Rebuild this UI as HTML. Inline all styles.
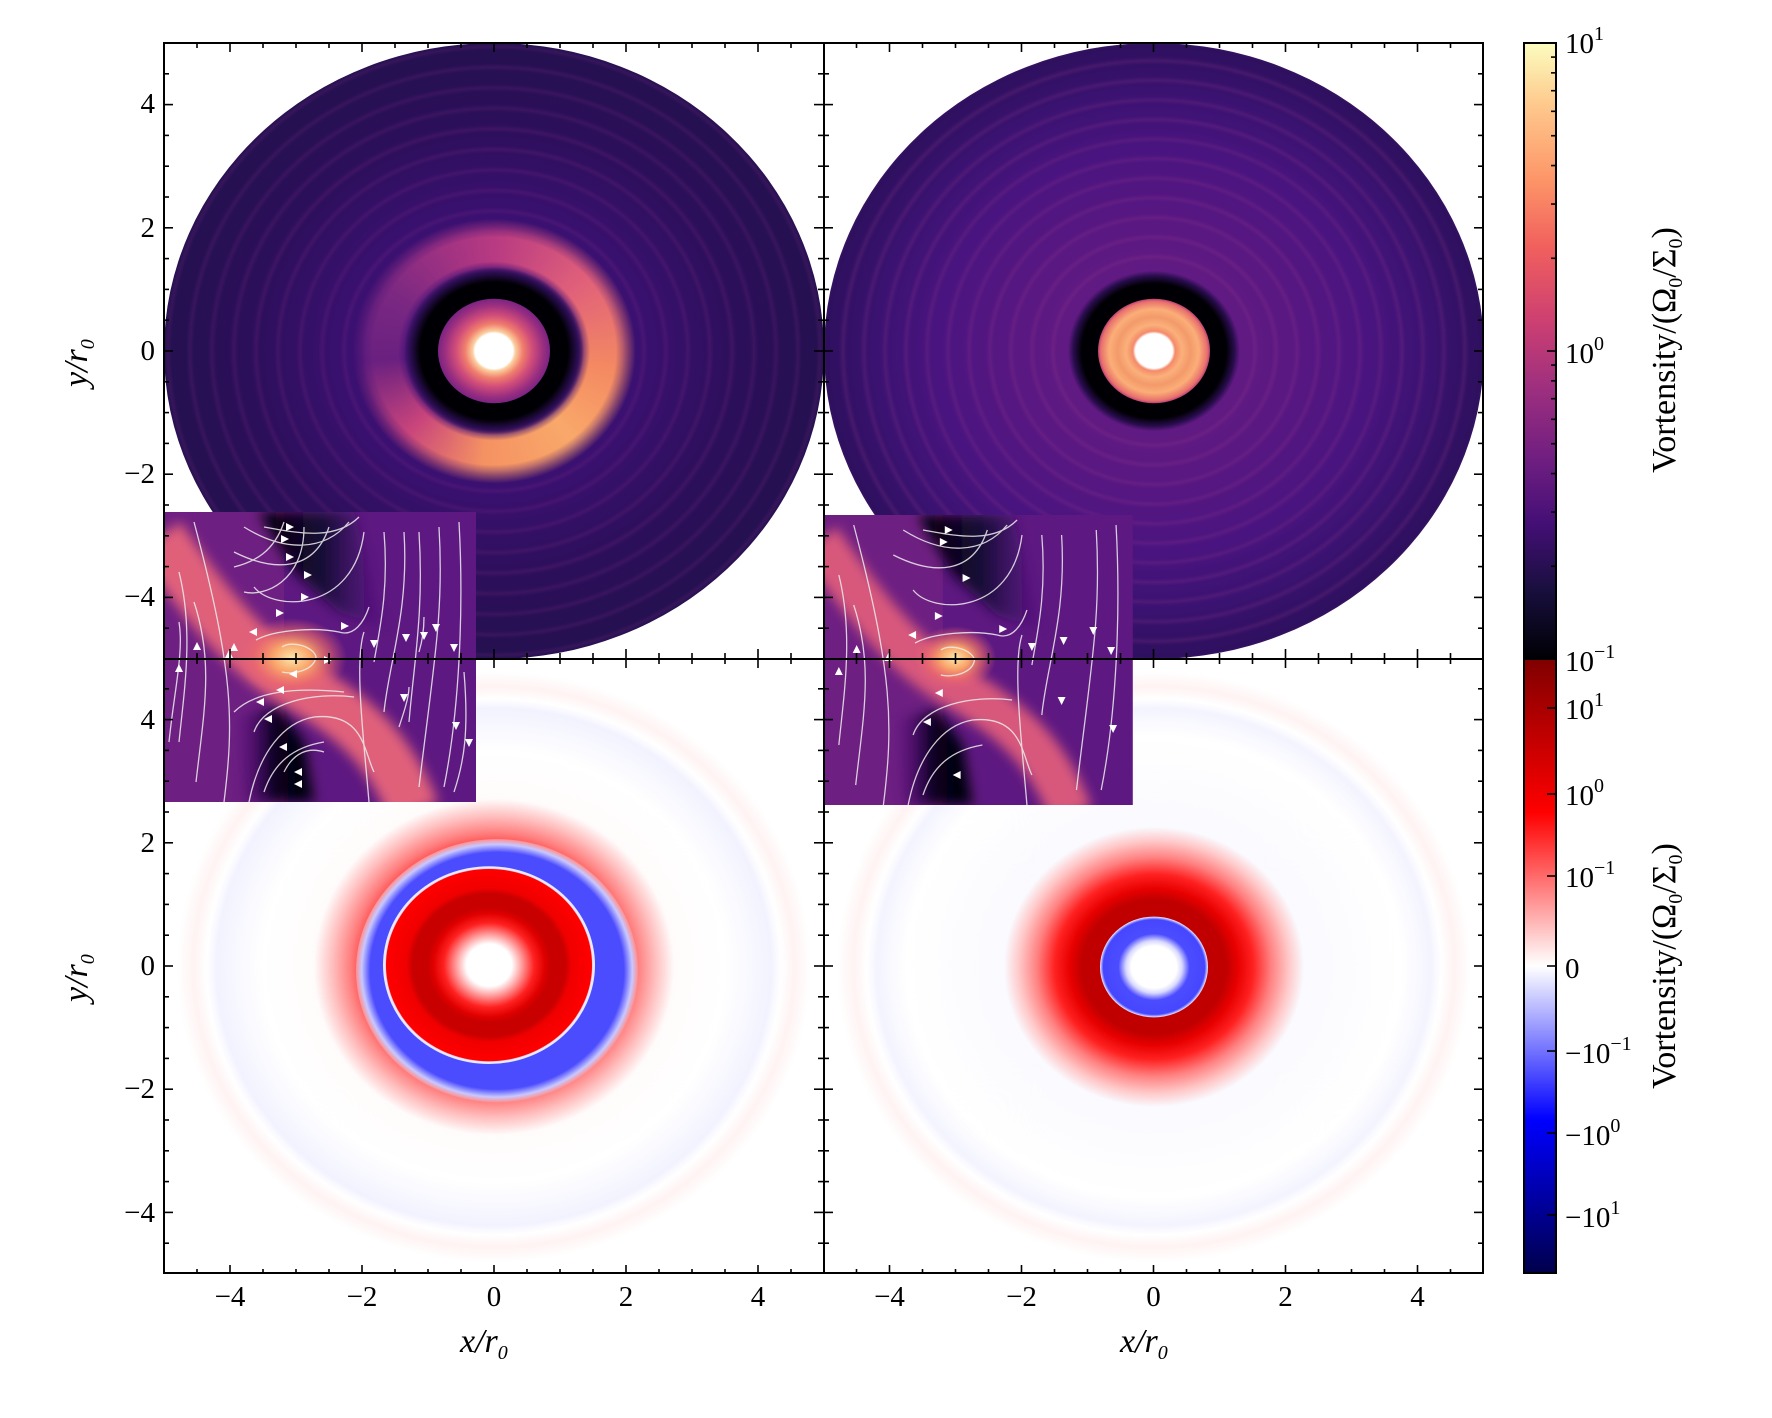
<!DOCTYPE html>
<html><head><meta charset="utf-8">
<style>
html,body{margin:0;padding:0;background:#fff;}
#root{position:relative;width:1772px;height:1418px;overflow:hidden;background:#fff;font-family:"Liberation Serif","DejaVu Serif",serif;}
.pc{position:absolute;width:660px;height:660px;transform-origin:0 0;transform:scaleY(0.9333);}
.c{position:absolute;border-radius:50%;}
.t{position:absolute;font-size:29px;color:#000;white-space:nowrap;line-height:1;}
sup{font-size:20px;vertical-align:0;position:relative;top:-13px;}
sub{font-size:20px;vertical-align:0;position:relative;top:7px;}
</style></head><body><div id="root">

<div class="pc" style="left:164px;top:43px;">
  <div class="c" style="left:0;top:0;width:660px;height:660px;background:radial-gradient(circle closest-side,#4a1380 0%,#3a1070 45%,#2c0f5a 75%,#241050 100%);"></div>
  <div class="c" style="left:0;top:0;width:660px;height:660px;background:repeating-radial-gradient(circle,rgba(0,0,0,0) 0px,rgba(0,0,0,0) 14px,rgba(150,50,140,0.16) 18px,rgba(0,0,0,0) 22px);"></div>
  <div class="c" style="left:185px;top:185px;width:290px;height:290px;background:conic-gradient(from 0deg,#b83a82 0deg,#e0607a 50deg,#f48a62 100deg,#f9a86a 140deg,#f59262 185deg,#c8447c 225deg,#6a2080 265deg,#7a2882 300deg,#a03282 335deg,#b83a82 360deg);-webkit-mask:radial-gradient(circle closest-side,transparent 84px,#000 96px,#000 122px,transparent 142px);mask:radial-gradient(circle closest-side,transparent 84px,#000 96px,#000 122px,transparent 142px);"></div>
  <div class="c" style="left:240px;top:240px;width:180px;height:180px;background:radial-gradient(circle closest-side,#000004 82%,#2a0d50 93%,rgba(60,16,110,0) 100%);"></div>
  <div class="c" style="left:274px;top:274px;width:112px;height:112px;background:radial-gradient(circle closest-side,#fff 34%,#fcd0a0 38%,#f07e6c 52%,#d24e7a 68%,#9a2e80 88%,#7a2482 100%);"></div>
</div>

<div class="pc" style="left:824px;top:43px;width:659px;">
  <div class="c" style="left:0;top:0;width:660px;height:660px;background:radial-gradient(circle closest-side,#6e1e84 0%,#5a1882 40%,#4a1480 65%,#3a1270 85%,#2e105e 100%);"></div>
  <div class="c" style="left:0;top:0;width:660px;height:660px;background:repeating-radial-gradient(circle,rgba(0,0,0,0) 0px,rgba(0,0,0,0) 13px,rgba(160,60,140,0.18) 17px,rgba(0,0,0,0) 21px);"></div>
  <div class="c" style="left:244px;top:244px;width:172px;height:172px;background:radial-gradient(circle closest-side,#000004 84%,#2a0d50 94%,rgba(80,20,120,0) 100%);"></div>
  <div class="c" style="left:274px;top:274px;width:112px;height:112px;background:radial-gradient(circle closest-side,#fff 33%,#f48a6a 38%,#fbb07a 50%,#f39a6a 65%,#fbae78 80%,#e8706c 95%,#b84078 100%);"></div>
</div>

<div class="pc" style="left:164px;top:659px;">
  <div class="c" style="left:0;top:0;width:660px;height:660px;background:radial-gradient(circle closest-side,rgba(255,240,240,0.5) 40%,rgba(255,255,255,0) 70%,rgba(232,232,255,0.55) 84%,rgba(255,255,255,0) 87%,rgba(255,228,228,0.45) 91%,rgba(255,255,255,0) 96%);"></div>
  <div class="c" style="left:150px;top:150px;width:360px;height:360px;background:radial-gradient(circle closest-side,#ff4040 72%,#ff8080 80%,#ffc0c0 90%,rgba(255,240,240,0) 100%);"></div>
  <div class="c" style="left:192px;top:193px;width:282px;height:282px;background:radial-gradient(circle closest-side,#4c4cff 90%,#c8c8ff 96%,#ff9090 100%);"></div>
  <div class="c" style="left:219px;top:222px;width:212px;height:212px;background:radial-gradient(circle closest-side,#ff0000 95%,#e8e8ff 98%,#e8e8ff 100%);"></div>
  <div class="c" style="left:222px;top:225px;width:206px;height:206px;background:radial-gradient(circle closest-side,#fff 22%,#ffb0b0 30%,#ff2020 44%,#e00000 54%,#c80000 60%,#c80000 74%,#f00000 80%,#ff0000 100%);"></div>
</div>

<div class="pc" style="left:824px;top:659px;width:659px;">
  <div class="c" style="left:0;top:0;width:660px;height:660px;background:radial-gradient(circle closest-side,rgba(245,245,255,0.6) 40%,rgba(255,255,255,0) 75%,rgba(232,232,255,0.5) 84%,rgba(255,255,255,0) 87%,rgba(255,228,228,0.45) 91%,rgba(255,255,255,0) 96%);"></div>
  <div class="c" style="left:180px;top:180px;width:300px;height:300px;background:radial-gradient(circle closest-side,#c00000 34%,#c00000 48%,#e80000 56%,#ff2020 66%,#ff8080 78%,#ffc8c8 90%,rgba(255,240,240,0) 100%);"></div>
  <div class="c" style="left:276px;top:276px;width:108px;height:108px;background:radial-gradient(circle closest-side,#fff 42%,#d8d8ff 52%,#4c4cff 66%,#4646ff 94%,#f0f0ff 100%);"></div>
</div>

<svg width="1772" height="1418" style="position:absolute;left:0;top:0" xmlns="http://www.w3.org/2000/svg">
<defs>
  <linearGradient id="dk1" x1="0" y1="0" x2="1" y2="0"><stop offset="0" stop-color="#000004"/><stop offset="0.5" stop-color="#1a0a3a"/><stop offset="1" stop-color="#4a1280" stop-opacity="0"/></linearGradient>
  <linearGradient id="dk2" x1="0" y1="0" x2="1" y2="0"><stop offset="0" stop-color="#4a1280" stop-opacity="0"/><stop offset="0.5" stop-color="#0a0420"/><stop offset="1" stop-color="#000004"/></linearGradient>
  <radialGradient id="blob"><stop offset="0" stop-color="#fde6a8"/><stop offset="0.35" stop-color="#f9a46a"/><stop offset="0.7" stop-color="#ee6a6a" stop-opacity="0.6"/><stop offset="1" stop-color="#e0607a" stop-opacity="0"/></radialGradient>
  <filter id="bl" x="-20%" y="-20%" width="140%" height="140%"><feGaussianBlur stdDeviation="6"/></filter>
  <clipPath id="ic"><rect x="0" y="0" width="312" height="290"/></clipPath>
  <linearGradient id="mag" x1="0" y1="0" x2="0" y2="1">
    <stop offset="0" stop-color="#fcfdbf"/><stop offset="0.1" stop-color="#fec98d"/><stop offset="0.22" stop-color="#fd9668"/><stop offset="0.33" stop-color="#f1605d"/><stop offset="0.45" stop-color="#cd4071"/><stop offset="0.56" stop-color="#9e2f7f"/><stop offset="0.67" stop-color="#721f81"/><stop offset="0.78" stop-color="#440f76"/><stop offset="0.89" stop-color="#180f3d"/><stop offset="1" stop-color="#000004"/></linearGradient>
  <linearGradient id="seis" x1="0" y1="0" x2="0" y2="1">
    <stop offset="0" stop-color="#800000"/><stop offset="0.25" stop-color="#ff0000"/><stop offset="0.5" stop-color="#ffffff"/><stop offset="0.75" stop-color="#0000ff"/><stop offset="1" stop-color="#00004c"/></linearGradient>
</defs>

<g transform="translate(164,512)">
 <g clip-path="url(#ic)">
  <rect width="312" height="290" fill="#5e1881"/>
  <rect x="0" width="120" height="290" fill="#6e1f82"/>
  <path d="M95,0 L190,0 L215,100 L230,120 L175,100 L130,60 Z" fill="url(#dk1)" filter="url(#bl)"/>
  <path d="M80,290 L150,290 L140,230 L115,195 L70,205 Z" fill="url(#dk2)" filter="url(#bl)"/>
  <path d="M-5,25 C40,90 80,140 130,170 C190,205 225,235 250,300" stroke="#e0607a" stroke-width="52" fill="none" filter="url(#bl)"/>
  <ellipse cx="128" cy="146" rx="55" ry="40" fill="url(#blob)"/>
  <g stroke="#eee" stroke-width="1.3" fill="none" opacity="0.85">
   <path d="M15,230 C20,180 30,120 15,60"/><path d="M32,270 C40,200 50,150 30,90"/><path d="M60,290 C70,210 70,160 30,10"/><path d="M5,230 C10,180 20,140 15,110"/>
   <path d="M85,290 C95,240 120,210 150,205 C200,200 200,240 210,260"/><path d="M100,280 C110,250 130,235 160,230"/><path d="M120,260 C130,240 145,235 160,240"/><path d="M90,220 C100,190 150,180 190,185"/>
   <path d="M70,200 C90,180 130,175 180,180"/>
   <path d="M195,5 C170,30 130,20 100,15"/><path d="M185,10 C160,40 120,40 80,15"/><path d="M165,15 C150,60 110,60 70,40"/><path d="M140,15 C140,70 100,85 80,80"/><path d="M200,20 C190,100 110,100 90,75"/>
   <path d="M120,10 C110,40 90,50 70,55"/>
   <path d="M92,128 C110,118 150,115 175,120 C190,125 200,110 205,95"/><path d="M118,135 C128,128 150,135 152,145 C150,158 130,163 118,160"/>
   <path d="M200,120 C190,150 200,230 205,290"/><path d="M220,20 C225,80 215,120 210,150"/><path d="M240,20 C245,100 225,150 220,200"/><path d="M255,20 C260,100 250,150 245,210"/>
   <path d="M275,15 C280,100 270,150 255,275"/><path d="M295,10 C300,100 295,200 280,275"/><path d="M300,160 C305,220 300,250 290,280"/><path d="M260,105 C260,120 258,130 255,140"/><path d="M245,175 C245,185 240,200 235,215"/>
  </g>
  <g fill="#fff">
   <path d="M130,15 l-8,-4 l0,8z"/><path d="M125,27 l-8,-4 l0,8z"/><path d="M130,45 l-8,-4 l0,8z"/><path d="M148,63 l-8,-4 l0,8z"/><path d="M145,85 l-8,-4 l0,8z"/><path d="M120,101 l-8,-4 l0,8z"/>
   <path d="M85,120 l8,-4 l0,8z"/><path d="M185,114 l-8,-4 l0,8z"/><path d="M168,148 l-8,-4 l0,8z"/><path d="M125,162 l8,-4 l0,8z"/>
   <path d="M112,178 l8,-4 l0,8z"/><path d="M92,190 l8,-4 l0,8z"/><path d="M100,207 l8,-4 l0,8z"/><path d="M115,235 l8,-4 l0,8z"/><path d="M130,260 l8,-4 l0,8z"/><path d="M130,272 l8,-4 l0,8z"/>
   <path d="M15,152 l-4,8 l8,0z"/><path d="M33,130 l-4,8 l8,0z"/><path d="M65,138 l-4,8 l8,0z"/><path d="M70,131 l-4,8 l8,0z"/>
   <path d="M210,136 l-4,-8 l8,0z"/><path d="M242,130 l-4,-8 l8,0z"/><path d="M260,128 l-4,-8 l8,0z"/><path d="M272,120 l-4,-8 l8,0z"/><path d="M290,140 l-4,-8 l8,0z"/><path d="M240,190 l-4,-8 l8,0z"/><path d="M292,218 l-4,-8 l8,0z"/><path d="M305,235 l-4,-8 l8,0z"/>
  </g>
 </g>
</g>
<g transform="translate(824,515) scale(0.99,1.0)">
 <g clip-path="url(#ic)">
  <rect width="312" height="290" fill="#5e1881"/>
  <rect x="0" width="120" height="290" fill="#6e1f82"/>
  <path d="M95,0 L190,0 L215,100 L230,120 L175,100 L130,60 Z" fill="url(#dk1)" filter="url(#bl)"/>
  <path d="M80,290 L150,290 L140,230 L115,195 L70,205 Z" fill="url(#dk2)" filter="url(#bl)"/>
  <path d="M-5,25 C40,90 80,140 130,170 C190,205 225,235 250,300" stroke="#d8587c" stroke-width="44" fill="none" filter="url(#bl)"/>
  <ellipse cx="132" cy="143" rx="42" ry="32" fill="url(#blob)"/>
  <g stroke="#eee" stroke-width="1.3" fill="none" opacity="0.85">
   <path d="M15,230 C20,180 30,120 15,60"/><path d="M32,270 C40,200 50,150 30,90"/><path d="M60,290 C70,210 70,160 30,10"/>
   <path d="M85,290 C95,240 120,210 150,205 C200,200 200,240 210,260"/><path d="M100,280 C110,250 130,235 160,230"/><path d="M90,220 C100,190 150,180 190,185"/>
   <path d="M195,5 C170,30 130,20 100,15"/><path d="M185,10 C160,40 120,40 80,15"/><path d="M165,15 C150,60 110,60 70,40"/><path d="M200,20 C190,100 110,100 90,75"/>
   <path d="M92,128 C110,118 150,115 175,120 C190,125 200,110 205,95"/><path d="M118,135 C128,128 150,135 152,145 C150,158 130,163 118,160"/>
   <path d="M200,120 C190,150 200,230 205,290"/><path d="M220,20 C225,80 215,120 210,150"/><path d="M240,20 C245,100 225,150 220,200"/>
   <path d="M275,15 C280,100 270,150 255,275"/><path d="M295,10 C300,100 295,200 280,275"/>
  </g>
  <g fill="#fff">
   <path d="M130,15 l-8,-4 l0,8z"/><path d="M125,27 l-8,-4 l0,8z"/><path d="M148,63 l-8,-4 l0,8z"/><path d="M120,101 l-8,-4 l0,8z"/>
   <path d="M85,120 l8,-4 l0,8z"/><path d="M185,114 l-8,-4 l0,8z"/><path d="M112,178 l8,-4 l0,8z"/><path d="M100,207 l8,-4 l0,8z"/><path d="M130,260 l8,-4 l0,8z"/>
   <path d="M15,152 l-4,8 l8,0z"/><path d="M33,130 l-4,8 l8,0z"/><path d="M65,138 l-4,8 l8,0z"/>
   <path d="M210,136 l-4,-8 l8,0z"/><path d="M242,130 l-4,-8 l8,0z"/><path d="M272,120 l-4,-8 l8,0z"/><path d="M290,140 l-4,-8 l8,0z"/><path d="M240,190 l-4,-8 l8,0z"/><path d="M292,218 l-4,-8 l8,0z"/>
  </g>
 </g>
</g>

<rect x="1524" y="43" width="32" height="616" fill="url(#mag)"/>
<rect x="1524" y="659" width="32" height="614" fill="url(#seis)"/>
<g id="ticks" stroke="#000" stroke-width="1.6"></g>
<g fill="none" stroke="#000" stroke-width="2">
 <rect x="164" y="43" width="1319" height="1230"/>
 <line x1="824" y1="43" x2="824" y2="1273"/>
 <line x1="164" y1="659" x2="1483" y2="659"/>
 <rect x="1524" y="43" width="32" height="1230"/>
 <line x1="1524" y1="659" x2="1556" y2="659"/>
</g>
</svg>

<div class="t" style="right:1617px;top:90px;">4</div>
<div class="t" style="right:1617px;top:214px;">2</div>
<div class="t" style="right:1617px;top:337px;">0</div>
<div class="t" style="right:1617px;top:460px;">−2</div>
<div class="t" style="right:1617px;top:583px;">−4</div>
<div class="t" style="right:1617px;top:706px;">4</div>
<div class="t" style="right:1617px;top:829px;">2</div>
<div class="t" style="right:1617px;top:952px;">0</div>
<div class="t" style="right:1617px;top:1075px;">−2</div>
<div class="t" style="right:1617px;top:1199px;">−4</div>
<div id="xl"></div>
<div class="t" style="left:460px;top:1325px;font-size:34px;font-style:italic;">x/r<sub>0</sub></div>
<div class="t" style="left:1120px;top:1325px;font-size:34px;font-style:italic;">x/r<sub>0</sub></div>
<div class="t" style="left:42px;top:335px;font-size:34px;font-style:italic;transform:rotate(-90deg);transform-origin:35px 17px;">y/r<sub>0</sub></div>
<div class="t" style="left:42px;top:950px;font-size:34px;font-style:italic;transform:rotate(-90deg);transform-origin:35px 17px;">y/r<sub>0</sub></div>
<div class="t" style="left:1565px;top:30px;">10<sup>1</sup></div>
<div class="t" style="left:1565px;top:340px;">10<sup>0</sup></div>
<div class="t" style="left:1565px;top:648px;">10<sup>−1</sup></div>
<div class="t" style="left:1565px;top:696px;">10<sup>1</sup></div>
<div class="t" style="left:1565px;top:782px;">10<sup>0</sup></div>
<div class="t" style="left:1565px;top:864px;">10<sup>−1</sup></div>
<div class="t" style="left:1565px;top:955px;">0</div>
<div class="t" style="left:1565px;top:1040px;">−10<sup>−1</sup></div>
<div class="t" style="left:1565px;top:1122px;">−10<sup>0</sup></div>
<div class="t" style="left:1565px;top:1204px;">−10<sup>1</sup></div>
<div class="t" style="left:1515px;top:333px;width:300px;text-align:center;font-size:34px;transform:rotate(-90deg);transform-origin:150px 17px;">Vortensity/(Ω<sub>0</sub>/Σ<sub>0</sub>)</div>
<div class="t" style="left:1515px;top:949px;width:300px;text-align:center;font-size:34px;transform:rotate(-90deg);transform-origin:150px 17px;">Vortensity/(Ω<sub>0</sub>/Σ<sub>0</sub>)</div>

<script>
(function(){
 var g=document.getElementById('ticks'),s='';
 function L(a,b,c,d){s+='<line x1="'+a+'" y1="'+b+'" x2="'+c+'" y2="'+d+'"/>';}
 var px=[[164,494],[824,1153.5]],py=[[43,351],[659,966]];
 for(var i=0;i<2;i++)for(var j=0;j<2;j++){
  var x0=px[i][0],cx=px[i][1],y0=py[j][0],cy=py[j][1],x1=x0+659,y1=y0+615;
  for(var k=-9;k<=9;k++){var v=k*0.5,len=(k%4==0)?9:5;
   var x=cx+v*66; if(x>x0+1&&x<x1-1){L(x,y1,x,y1-len);L(x,y0,x,y0+len);}
   var y=cy-v*61.6; if(y>y0+1&&y<y1-1){L(x0,y,x0+len,y);L(x1,y,x1-len,y);}
  }
 }
 for(var d=0;d<2;d++)for(var m=2;m<=9;m++){var y=659-308*(d+Math.log10(m));L(1556,y,1551,y);}
 L(1556,351,1547,351);
 [708,794,876,966,1051,1133,1215].forEach(function(y){L(1556,y,1547,y);});
 g.innerHTML=s;
 var xl=document.getElementById('xl'),h='';
 [[494,66],[1153.5,66]].forEach(function(p){[-4,-2,0,2,4].forEach(function(v){
  var x=p[0]+v*p[1];var t=(v<0?'−':'')+Math.abs(v);
  h+='<div class="t" style="left:'+(x-40)+'px;width:80px;text-align:center;top:1283px;">'+t+'</div>';});});
 xl.innerHTML=h;
})();
</script>
</div></body></html>
